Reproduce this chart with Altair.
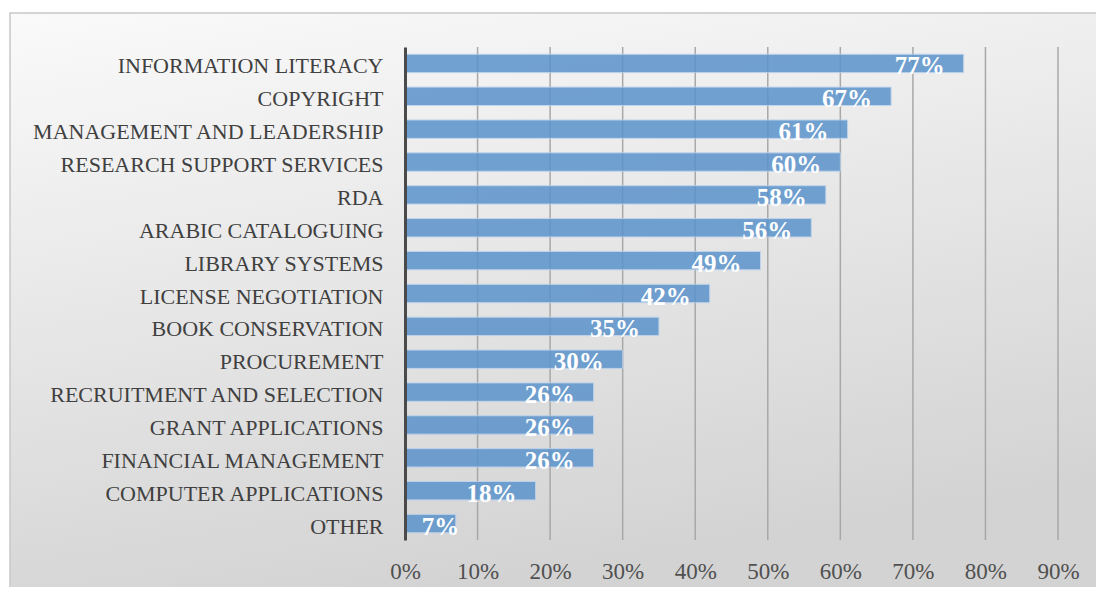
import altair as alt
import pandas as pd

categories = [
    "INFORMATION LITERACY", "COPYRIGHT", "MANAGEMENT AND LEADERSHIP",
    "RESEARCH SUPPORT SERVICES", "RDA", "ARABIC CATALOGUING ",
    "LIBRARY SYSTEMS", "LICENSE NEGOTIATION", "BOOK CONSERVATION",
    "PROCUREMENT", "RECRUITMENT AND SELECTION", "GRANT APPLICATIONS",
    "FINANCIAL MANAGEMENT", "COMPUTER APPLICATIONS", "OTHER",
]
values = [0.77, 0.67, 0.61, 0.60, 0.58, 0.56, 0.49, 0.42, 0.35, 0.30,
          0.26, 0.26, 0.26, 0.18, 0.07]
x_ticks = [0, 0.1, 0.2, 0.3, 0.4, 0.5, 0.6, 0.7, 0.8, 0.9]

df = pd.DataFrame({"cat": categories, "val": values})
grid_df = pd.DataFrame({"t": x_ticks[1:]})

W, H = 653, 493
FONT = "Liberation Serif"

xscale = alt.Scale(domain=[0, 0.9], nice=False, zero=True)
yscale = alt.Scale(domain=categories, paddingInner=0.44, paddingOuter=0.22)
xaxis = alt.Axis(values=x_ticks, format=".0%", title=None,
                 grid=False, domain=False, ticks=False, zindex=1,
                 labelFlush=False, labelBound=False, labelOverlap=False,
                 labelFont=FONT, labelFontSize=23,
                 labelColor="#505050", labelPadding=20)

bg = alt.Chart(pd.DataFrame({"a": [0]})).mark_rect(
    fill=alt.Gradient(
        gradient="linear", x1=0, y1=0, x2=0.3, y2=1,
        stops=[alt.GradientStop(offset=0, color="#fafafa"),
               alt.GradientStop(offset=1, color="#d3d3d3")]),
    stroke="#c8c8c8", strokeWidth=1.5,
).encode(x=alt.value(-395), x2=alt.value(700), y=alt.value(-34), y2=alt.value(560))

grid = alt.Chart(grid_df).mark_rule(color="#a8a8a8", strokeWidth=1.5).encode(
    x=alt.X("t:Q", scale=xscale, axis=xaxis),
    y=alt.value(0), y2=alt.value(H),
)

bars = alt.Chart(df).mark_bar(
    color="#5b93cb", opacity=0.85, stroke="#b9d1ec", strokeWidth=1,
).encode(
    x=alt.X("val:Q", scale=xscale, axis=xaxis),
    y=alt.Y("cat:N", scale=yscale, sort=categories,
            axis=alt.Axis(title=None, ticks=False, domain=True, zindex=1,
                          domainColor="#4a4a4a", domainWidth=3,
                          labelFont=FONT, labelFontSize=22, labelOffset=3,
                          labelColor="#404040", labelPadding=22,
                          labelLimit=400)),
)

labels = alt.Chart(df).transform_calculate(
    lx="datum.val < 0.1 ? datum.val + 0.031 : datum.val"
).mark_text(
    align="right", baseline="middle", dx=-19, dy=3,
    font=FONT, fontSize=25, fontWeight="bold", color="white",
).encode(
    x=alt.X("lx:Q", scale=xscale),
    y=alt.Y("cat:N", scale=yscale, sort=categories),
    text=alt.Text("val:Q", format=".0%"),
)

chart = alt.layer(bg, grid, bars, labels).properties(
    width=W, height=H,
    padding={"left": 397, "top": 39, "right": 38, "bottom": 47},
    autosize=alt.AutoSizeParams(type="none"),
    background="white",
).configure_view(stroke=None)

chart.save("out.html", embed_options={"renderer": "svg", "actions": False})
